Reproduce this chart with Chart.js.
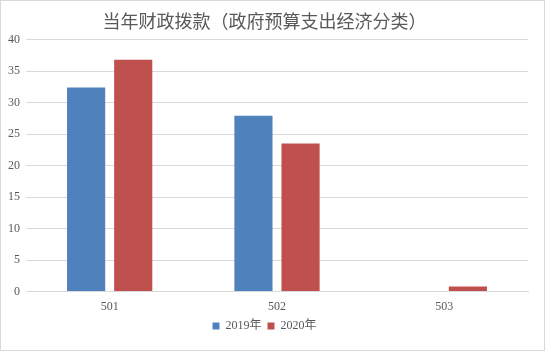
<!DOCTYPE html>
<html>
<head>
<meta charset="utf-8">
<script src="https://cdn.jsdelivr.net/npm/chart.js@4/dist/chart.umd.min.js"></script>
<style>
  body { margin: 0; background: #fff; }
  #wrap { width: 543px; height: 349px; border: 1px solid #d9d9d9; }
</style>
</head>
<body>
<div id="wrap"><canvas id="chart" width="543" height="349"></canvas></div>
<script>
const categories = ["501", "502", "503"];
const values2019 = [32.4, 27.9, 0];
const values2020 = [36.8, 23.5, 0.8];
const yTicks = [0, 5, 10, 15, 20, 25, 30, 35, 40];

const tickFont = { family: "'Liberation Serif', 'Times New Roman', serif", size: 12 };

new Chart(document.getElementById("chart"), {
    type: 'bar',
    data: {
        labels: categories,
        datasets: [
            { label: '2019年', data: values2019, backgroundColor: '#4f81bd' },
            { label: '2020年', data: values2020, backgroundColor: '#c0504d' }
        ]
    },
    options: {
        responsive: false,
        animation: false,
        categoryPercentage: 0.563,
        barPercentage: 0.81,
        layout: { padding: { left: 0, right: 16, top: 0, bottom: 8 } },
        plugins: {
            title: {
                display: true,
                text: '当年财政拨款（政府预算支出经济分类）',
                color: '#595959',
                font: { family: "'Noto Sans CJK SC', sans-serif", size: 18, weight: 'normal' },
                padding: { top: 9, bottom: 8 }
            },
            legend: {
                position: 'bottom',
                labels: {
                    color: '#595959',
                    boxWidth: 7,
                    boxHeight: 7,
                    padding: 6,
                    font: { family: "'Liberation Serif', 'Noto Sans CJK SC', serif", size: 12 }
                }
            },
            tooltip: { enabled: false }
        },
        scales: {
            x: {
                grid: { display: false },
                border: { color: '#d9d9d9' },
                ticks: { color: '#595959', font: tickFont, padding: 0 }
            },
            y: {
                min: 0,
                max: 40,
                afterBuildTicks: axis => { axis.ticks = yTicks.map(v => ({ value: v })); },
                afterFit: axis => { axis.width = 25; },
                grid: { color: '#d9d9d9', drawTicks: false },
                border: { display: false },
                ticks: { color: '#595959', font: tickFont, padding: 6 }
            }
        }
    }
});
</script>
</body>
</html>
